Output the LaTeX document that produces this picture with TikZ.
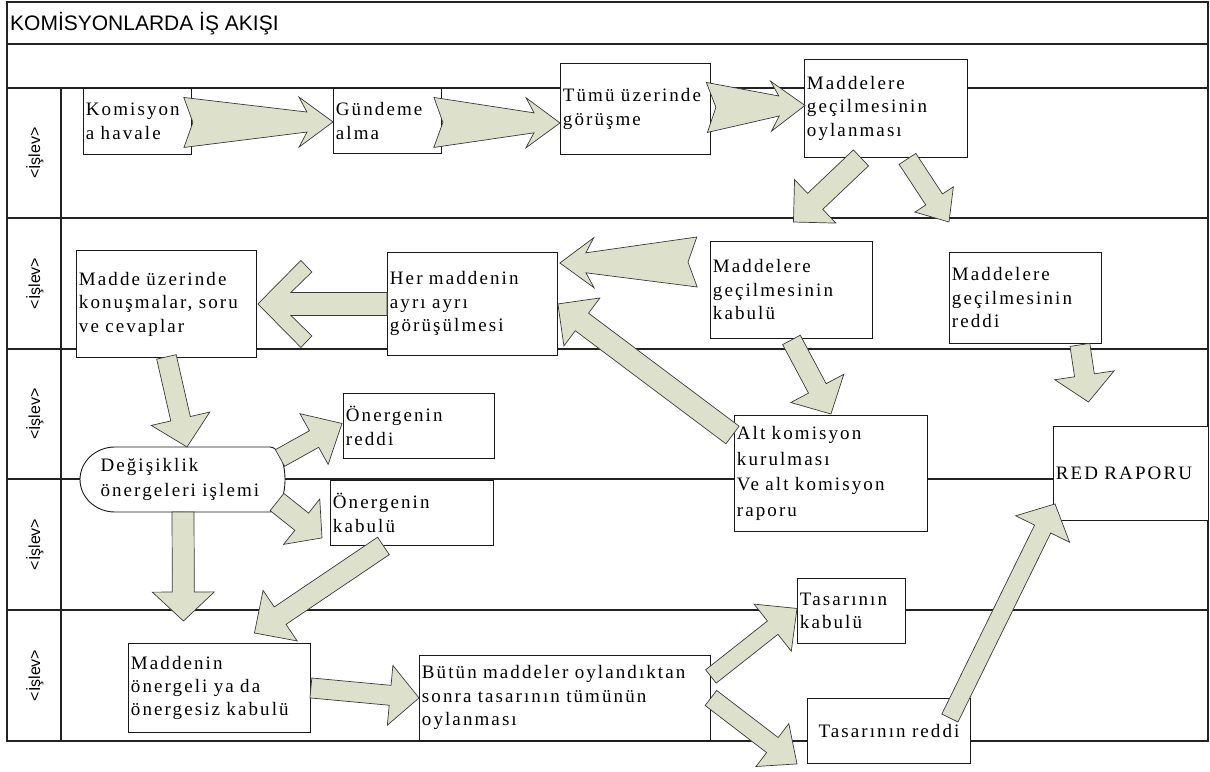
\documentclass[tikz,border=0pt]{standalone}
\usepackage{fontspec}
\setmainfont{Liberation Serif}[LetterSpace=11]
\newfontfamily\lanefont{Liberation Sans}
\usetikzlibrary{calc}
\definecolor{ArrowFill}{HTML}{DDE1CC}
\definecolor{ArrowEdge}{HTML}{3A3A3A}
\definecolor{LineGray}{HTML}{222222}

% plain block arrow: tail, tip, shaft half-width, head half-width, head length
\newcommand{\blockarrow}[5]{%
  \coordinate (ba-t) at (#1);
  \coordinate (ba-p) at (#2);
  \coordinate (ba-h) at ($(ba-p)!#5!(ba-t)$);
  \draw[flowarrow] ($(ba-t)!#3!90:(ba-p)$) -- ($(ba-h)!#3!-90:(ba-t)$)
    -- ($(ba-h)!#4!-90:(ba-t)$) -- (ba-p) -- ($(ba-h)!#4!90:(ba-t)$)
    -- ($(ba-h)!#3!90:(ba-t)$) -- ($(ba-t)!#3!-90:(ba-p)$) -- cycle;
}
% tapered arrow with notched tail and barbed head
\newcommand{\fancyarrow}[2]{%
  \coordinate (fa-t) at (#1);
  \coordinate (fa-p) at (#2);
  \coordinate (fa-n) at ($(fa-p)!26pt!(fa-t)$);
  \coordinate (fa-b) at ($(fa-p)!34pt!(fa-t)$);
  \draw[flowarrow] ($(fa-t)!25pt!90:(fa-p)$) -- ($(fa-n)!10pt!-90:(fa-t)$)
    -- ($(fa-b)!25pt!-90:(fa-t)$) -- (fa-p) -- ($(fa-b)!25pt!90:(fa-t)$)
    -- ($(fa-n)!10pt!90:(fa-t)$) -- ($(fa-t)!25pt!-90:(fa-p)$)
    -- ($(fa-t)!9pt!(fa-p)$) -- cycle;
}
% chevron-headed arrow
\newcommand{\chevronarrow}[2]{%
  \coordinate (ca-t) at (#1);
  \coordinate (ca-p) at (#2);
  \draw[flowarrow] (ca-p)
    -- ($(ca-p)!43pt!(ca-t)!43.5pt!90:(ca-t)$)
    -- ($(ca-p)!54pt!(ca-t)!32pt!90:(ca-t)$)
    -- ($(ca-p)!33pt!(ca-t)!11.5pt!90:(ca-t)$)
    -- ($(ca-t)!11.5pt!-90:(ca-p)$) -- ($(ca-t)!11.5pt!90:(ca-p)$)
    -- ($(ca-p)!33pt!(ca-t)!11.5pt!-90:(ca-t)$)
    -- ($(ca-p)!54pt!(ca-t)!32pt!-90:(ca-t)$)
    -- ($(ca-p)!43pt!(ca-t)!43.5pt!-90:(ca-t)$) -- cycle;
}

\begin{document}
\begin{tikzpicture}[x=1pt, y=-1pt,
    procbox/.style={draw=black!90, fill=white, line width=0.9pt, anchor=north west,
                    inner xsep=2.5pt, inner ysep=0pt, align=left,
                    font=\fontsize{19}{23.5}\selectfont},
    lanelabel/.style={rotate=90, inner sep=0pt, font=\lanefont\fontsize{16}{18}\selectfont},
    laneline/.style={line width=1.2pt, LineGray},
    flowarrow/.style={fill=ArrowFill, draw=ArrowEdge, line width=0.7pt}]
    \useasboundingbox (0,0) rectangle (1210,771);

    % Frame and lanes
    \draw[laneline] (7,2) rectangle (1208,741);
    \draw[laneline] (7,44) -- (1208,44);
    \foreach \y in {88,218,349,479,610}
        \draw[laneline] (7,\y) -- (1208,\y);
    \draw[laneline] (61,88) -- (61,741);

    % Title
    \node[anchor=base west, inner sep=0pt, font=\lanefont\fontsize{21}{25}\selectfont] (title)
        at (10,30) {KOMİSYONLARDA İŞ AKIŞI};

    % Lane labels
    \node[lanelabel] (lane1) at (35,153) {<İşlev>};
    \node[lanelabel] (lane2) at (35,283.5) {<İşlev>};
    \node[lanelabel] (lane3) at (35,414) {<İşlev>};
    \node[lanelabel] (lane4) at (35,544.5) {<İşlev>};
    \node[lanelabel] (lane5) at (35,675.5) {<İşlev>};

    % Lane 1
    \node[procbox, minimum width=108pt, minimum height=66pt, text width=103pt] (kom)
        at (83,88) {Komisyon\\a havale};
    \node[procbox, minimum width=108pt, minimum height=65pt, text width=103pt] (gun)
        at (333,88) {Gündeme\\alma};
    \node[procbox, minimum width=150pt, minimum height=91pt, text width=145pt] (tum)
        at (560,63) {Tümü üzerinde\\görüşme};
    \node[procbox, minimum width=163pt, minimum height=98pt, text width=158pt] (oyl)
        at (804,59) {Maddelere\\geçilmesinin\\oylanması};

    % Lane 2
    \node[procbox, minimum width=180pt, minimum height=107pt, text width=175pt] (mad)
        at (76,250) {Madde üzerinde\\konuşmalar, soru\\ve cevaplar};
    \node[procbox, minimum width=170pt, minimum height=103pt, text width=165pt] (her)
        at (387,252) {Her maddenin\\ayrı ayrı\\görüşülmesi};
    \node[procbox, minimum width=162pt, minimum height=97pt, text width=157pt] (kab)
        at (710,241) {Maddelere\\geçilmesinin\\kabulü};
    \node[procbox, minimum width=152pt, minimum height=91pt, text width=147pt] (red)
        at (949,252) {Maddelere\\geçilmesinin\\reddi};

    % Lane 3 and 4
    \node[procbox, minimum width=151pt, minimum height=65pt, text width=146pt] (onr)
        at (343,393) {Önergenin\\reddi};
    \coordinate (dgsc) at (182.5,479.5);
    \draw[draw=black!90, fill=white, line width=0.9pt]
        ($(dgsc)+(-67.5,-32.5)$) .. controls ($(dgsc)+(-86.8,-32.5)$) and ($(dgsc)+(-102.5,-17.9)$)
        .. ($(dgsc)+(-102.5,0)$) .. controls ($(dgsc)+(-102.5,17.9)$) and ($(dgsc)+(-86.8,32.5)$)
        .. ($(dgsc)+(-67.5,32.5)$) -- ($(dgsc)+(87.5,32.5)$)
        .. controls ($(dgsc)+(95.8,32.5)$) and ($(dgsc)+(102.5,17.9)$) .. ($(dgsc)+(102.5,0)$)
        .. controls ($(dgsc)+(102.5,-17.9)$) and ($(dgsc)+(95.8,-32.5)$) .. ($(dgsc)+(87.5,-32.5)$)
        -- cycle;
    \node[align=left, text width=165pt, inner xsep=0pt, inner ysep=0pt,
          font=\fontsize{19}{25}\selectfont] (dgs)
        at ($(dgsc)+(0.5,0)$) {Değişiklik\\önergeleri işlemi};
    \node[procbox, minimum width=163pt, minimum height=65pt, text width=158pt] (onk)
        at (330,480) {Önergenin\\kabulü};
    \node[procbox, minimum width=193pt, minimum height=116pt, text width=188pt,
          font=\fontsize{19}{25.5}\selectfont] (alt)
        at (734,415) {Alt komisyon\\kurulması\\Ve alt komisyon\\raporu};
    \node[procbox, minimum width=155pt, minimum height=94pt, text width=150pt] (rap)
        at (1053,426) {RED RAPORU};

    % Lane 5
    \node[procbox, minimum width=182pt, minimum height=89pt, text width=177pt] (mkb)
        at (128,643) {Maddenin\\önergeli ya da\\önergesiz kabulü};
    \node[procbox, minimum width=291pt, minimum height=85pt, text width=286pt] (but)
        at (419,655) {Bütün maddeler oylandıktan\\sonra tasarının tümünün\\oylanması};
    \node[procbox, minimum width=108pt, minimum height=65pt, text width=103pt] (tsk)
        at (797,578) {Tasarının\\kabulü};
    \node[procbox, minimum width=163pt, minimum height=65pt, text width=158pt, align=center] (tsr)
        at (807,698) {Tasarının reddi};

    % Arrows
    \fancyarrow{$(kom.east)+(-8,1)$}{$(gun.west)+(0,1)$}
    \fancyarrow{$(gun.east)+(-8,1.5)$}{$(tum.west)+(0,14)$}
    \fancyarrow{$(tum.east)+(-4,-1.5)$}{$(oyl.west)+(1,-3)$}
    \blockarrow{$(oyl.south)+(-25,0)$}{$(kab.north)+(2,-19)$}{11pt}{30pt}{30pt}
    \blockarrow{$(oyl.south)+(21.5,1)$}{$(red.north west)+(0,-30)$}{10pt}{23pt}{27pt}
    \fancyarrow{$(kab.north west)+(-13,21)$}{$(her.north east)+(2,11)$}
    \chevronarrow{$(her.west)+(0,0)$}{$(mad.east)+(1,0)$}
    \blockarrow{$(mad.south)+(0,-1)$}{$(dgsc)+(4.5,-32.5)$}{10pt}{30pt}{29pt}
    \blockarrow{$(dgsc)+(97.5,-21.5)$}{$(onr.west)+(-1,-2.5)$}{9.5pt}{29pt}{32pt}
    \blockarrow{$(kab.south)+(0,1)$}{$(alt.north)+(0,-1)$}{10pt}{30pt}{29pt}
    \blockarrow{$(red.south east)+(-22,1)$}{$(rap.north)+(-42.5,-24)$}{10pt}{30pt}{27pt}
    \blockarrow{$(alt.north west)+(-1.5,20)$}{her.east}{11pt}{30pt}{30pt}
    \blockarrow{$(dgsc)+(94.5,22.5)$}{$(onk.south west)+(-8,-8)$}{11pt}{29pt}{26pt}
    \blockarrow{$(dgsc)+(0.5,32.5)$}{$(mkb.north)+(-36,-22)$}{11pt}{31pt}{29pt}
    \blockarrow{$(onk.south)+(-28.5,0)$}{$(mkb.north)+(35,-10)$}{10.5pt}{30.5pt}{31pt}
    \blockarrow{mkb.east}{but.west}{10pt}{30pt}{29pt}
    \blockarrow{$(but.east)+(0,-21.5)$}{$(tsk.west)+(0,-2.5)$}{8.5pt}{30pt}{31pt}
    \blockarrow{but.east}{$(tsr.south west)+(-10,0)$}{9.5pt}{27pt}{31pt}
    \blockarrow{$(tsr.north east)+(-21,20)$}{$(rap.south west)+(2,-17)$}{9pt}{30pt}{28pt}
\end{tikzpicture}
\end{document}
